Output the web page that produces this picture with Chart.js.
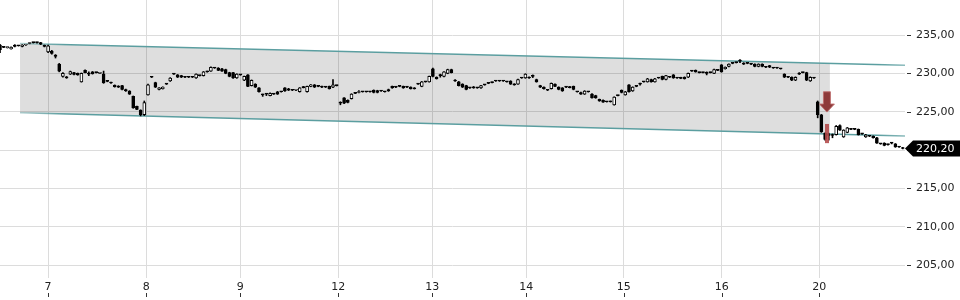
<!DOCTYPE html>
<html><head><meta charset="utf-8">
<script src="https://cdn.jsdelivr.net/npm/chart.js@4/dist/chart.umd.min.js"></script>
<style>html,body{margin:0;padding:0;background:#fff}#wrap{width:960px;height:300px;position:relative}</style>
</head><body><div id="wrap"><canvas id="c"></canvas></div>
<script>
// day labels and their position (candle slot where each day starts)
const dayLabels = ['7','8','9','12','13','14','15','16','20'];
const dayStarts = [13, 39.5, 64.9, 91.4, 116.8, 142.2, 168.6, 195.1, 221.4];
const yTicks = [205, 210, 215, 220, 225, 230, 235];

const opens = [
233.7,233.4,233.35,233.2,233.7,233.6,233.5,233.7,233.9,234.0,
234.0,234.0,233.65,232.8,232.9,232.4,231.2,229.6,229.55,229.9,
230.1,230.0,228.9,230.4,229.95,230.2,230.1,230.0,229.9,229.0,
228.8,228.45,228.35,228.4,227.9,227.7,227.0,225.7,225.2,224.6,
227.2,229.5,228.8,227.9,228.0,228.6,229.0,229.9,229.8,229.7,
229.5,229.5,229.55,229.4,229.7,229.7,230.2,230.3,230.7,230.7,
230.6,230.5,230.1,230.1,229.4,229.8,229.1,229.8,228.4,228.6,
228.1,227.25,227.3,227.1,227.3,227.6,227.6,228.1,228.0,227.8,
227.8,227.6,228.25,227.6,228.3,228.5,228.3,228.3,228.2,228.3,
228.2,228.4,226.1,226.8,226.5,226.7,227.4,227.5,227.6,227.6,
227.6,227.8,227.75,227.7,227.6,227.9,228.3,228.2,228.3,228.3,
228.2,228.2,228.1,228.6,228.3,228.9,228.9,230.6,229.5,229.7,
229.6,230.0,230.5,229.0,228.9,228.6,228.4,228.1,228.25,228.1,
228.1,228.5,228.7,228.8,229.0,229.0,229.0,228.9,229.0,228.6,
228.6,229.4,229.4,229.5,229.6,229.2,228.4,228.2,227.8,228.0,
228.6,228.2,228.1,228.2,228.25,228.3,227.6,227.5,227.3,227.6,
227.3,227.1,226.6,226.5,226.3,226.35,225.9,227.1,227.8,227.2,
228.5,227.7,228.3,228.6,228.9,228.9,229.2,228.9,229.4,229.6,
229.2,229.5,229.8,229.4,229.45,229.5,229.5,230.3,230.4,230.1,
230.1,230.0,230.1,230.0,230.4,231.1,230.6,230.9,231.3,231.4,
231.6,231.35,231.3,231.2,231.2,230.9,231.2,230.8,231.0,230.7,
230.7,230.6,229.9,229.5,229.5,229.1,229.9,230.1,230.1,229.0,
229.4,226.3,224.6,222.2,221.9,221.9,222.0,223.2,221.7,222.3,
222.7,222.7,222.7,222.1,221.7,221.8,221.8,221.6,220.8,220.9,
220.7,220.9,220.8,220.4,220.3];

const closes = [
233.1,233.4,233.4,233.4,233.5,233.6,233.7,233.75,233.95,234.0,
234.0,233.8,233.5,233.6,232.6,232.2,230.3,230.0,229.4,230.25,
229.85,229.8,230.0,230.1,229.9,229.95,230.1,230.05,228.8,228.95,
228.75,228.25,228.2,227.9,227.7,227.3,225.5,225.3,224.6,226.2,
228.5,229.5,228.2,228.1,228.2,228.6,229.4,229.9,229.5,229.5,
229.5,229.5,229.5,229.9,229.7,230.2,230.2,230.8,230.7,230.4,
230.3,230.0,229.6,229.4,229.9,229.8,229.6,228.3,229.1,228.2,
227.6,227.2,227.3,227.4,227.3,227.3,227.6,227.7,227.8,227.8,
227.85,228.1,228.15,228.3,228.5,228.2,228.3,228.2,228.2,228.0,
228.5,228.4,226.1,226.1,226.2,227.3,227.4,227.6,227.6,227.6,
227.6,227.5,227.5,227.7,227.6,227.7,228.1,228.2,228.3,228.1,
228.2,228.0,228.0,228.6,228.9,228.9,229.6,229.6,229.3,229.7,
230.2,230.5,230.1,229.0,228.4,228.2,227.9,228.1,228.1,228.1,
228.4,228.5,228.7,228.8,229.0,229.0,229.0,228.9,228.6,228.5,
229.2,229.4,229.9,229.4,229.6,228.9,228.2,228.0,227.8,228.7,
228.3,227.9,227.7,228.2,228.15,227.9,227.6,227.3,227.7,227.6,
226.8,226.8,226.4,226.25,226.3,226.3,226.9,227.1,227.5,227.6,
227.6,228.2,228.3,228.6,228.9,229.3,228.9,229.3,229.4,229.2,
229.7,229.5,229.4,229.4,229.35,229.3,230.0,230.3,230.2,230.1,
230.1,230.0,230.1,230.5,230.4,230.2,230.8,231.2,231.3,231.4,
231.6,231.2,231.3,231.2,230.9,231.2,230.9,230.8,230.8,230.7,
230.7,230.6,229.5,229.5,229.1,229.5,229.9,230.1,229.1,229.5,
229.4,224.6,222.4,221.4,221.9,221.9,223.1,222.6,222.6,222.9,
222.7,222.7,222.0,222.1,222.0,221.8,221.6,220.9,220.8,220.6,
220.7,220.9,220.4,220.4,220.2];

const highs = [
233.8,233.45,233.45,233.45,233.75,233.65,233.75,233.8,234.0,234.05,
234.05,234.05,233.7,233.7,233.0,232.45,231.3,230.1,229.6,230.3,
230.15,230.05,230.05,230.45,230.2,230.25,230.15,230.1,230.3,229.05,
228.85,228.5,228.4,228.45,227.95,227.75,227.05,225.75,225.25,226.4,
228.6,229.6,228.85,228.15,228.25,228.65,229.45,229.95,229.85,229.75,
229.55,229.55,229.6,229.95,229.75,230.25,230.3,230.85,230.75,230.75,
230.65,230.55,230.15,230.15,229.95,229.85,229.65,229.85,229.15,228.65,
228.15,227.3,227.35,227.45,227.35,227.65,227.65,228.15,228.05,227.85,
227.9,228.15,228.3,228.35,228.55,228.55,228.35,228.35,228.25,228.35,
229.2,228.45,226.3,226.85,226.55,227.35,227.45,227.75,227.65,227.65,
227.65,227.85,227.8,227.75,227.65,227.95,228.35,228.25,228.35,228.35,
228.25,228.25,228.15,228.65,228.95,228.95,229.65,230.7,229.55,229.9,
230.25,230.55,230.55,229.2,228.95,228.65,228.45,228.15,228.3,228.15,
228.45,228.55,228.75,228.85,229.05,229.05,229.05,228.95,229.05,228.65,
229.25,229.45,229.95,229.55,229.8,229.25,228.45,228.25,227.85,228.75,
228.65,228.25,228.15,228.25,228.3,228.35,227.65,227.55,227.75,227.65,
227.35,227.15,226.65,226.55,226.35,226.4,226.95,227.15,227.85,227.65,
228.55,228.25,228.35,228.75,228.95,229.35,229.25,229.35,229.45,229.65,
229.75,229.55,229.85,229.45,229.5,229.55,230.05,230.35,230.45,230.15,
230.15,230.2,230.15,230.55,230.45,231.15,230.85,231.25,231.35,231.45,
231.8,231.4,231.35,231.25,231.25,231.25,231.25,230.85,231.05,230.75,
230.75,230.65,229.95,229.55,229.55,229.55,230.1,230.15,230.15,229.55,
229.45,226.4,224.65,222.25,222.2,222.1,223.2,223.3,222.65,222.95,
222.75,222.75,222.75,222.15,222.05,221.85,221.85,221.65,220.85,220.95,
220.75,221.0,220.85,220.45,220.35];

const lows = [
232.7,233.35,233.3,233.15,233.45,233.55,233.45,233.65,233.85,233.95,
233.95,233.75,233.45,232.7,232.5,232.0,230.2,229.5,229.35,229.85,
229.8,229.75,228.85,230.05,229.7,229.9,230.05,229.95,228.7,228.9,
228.7,228.2,228.15,227.85,227.65,227.25,225.45,225.25,224.45,224.5,
227.15,229.45,228.15,227.85,227.95,228.55,228.95,229.85,229.45,229.45,
229.45,229.45,229.45,229.35,229.65,229.65,230.15,230.25,230.65,230.35,
230.25,229.95,229.55,229.35,229.35,229.75,229.05,228.25,228.35,228.15,
227.55,227.0,227.1,227.05,227.25,227.25,227.55,227.65,227.75,227.75,
227.75,227.55,228.1,227.55,228.25,228.15,228.25,228.15,228.15,227.95,
228.15,228.35,225.9,226.05,226.15,226.65,227.35,227.45,227.55,227.55,
227.55,227.45,227.45,227.65,227.55,227.65,228.05,228.15,228.25,228.05,
228.15,227.95,227.95,228.55,228.25,228.85,228.85,229.55,229.25,229.5,
229.55,229.95,230.05,228.95,228.35,228.15,227.85,228.05,228.05,228.05,
228.05,228.45,228.65,228.75,228.95,228.95,228.95,228.85,228.55,228.45,
228.55,229.35,229.35,229.35,229.45,228.85,228.15,227.95,227.75,227.95,
228.25,227.85,227.65,228.15,228.1,227.85,227.55,227.25,227.25,227.55,
226.75,226.75,226.35,226.2,226.25,226.25,225.85,227.05,227.45,227.15,
227.55,227.65,228.25,228.45,228.85,228.85,228.85,228.85,229.35,229.15,
229.15,229.45,229.35,229.35,229.3,229.25,229.45,230.25,230.15,230.05,
230.05,229.8,230.05,229.95,230.35,230.15,230.55,230.85,231.25,231.35,
231.4,231.15,231.25,231.15,230.85,230.85,230.85,230.75,230.75,230.65,
230.65,230.55,229.45,229.45,229.05,229.05,229.85,230.05,229.05,228.95,
229.35,224.2,222.3,221.3,221.3,221.6,221.95,222.55,221.65,222.25,
222.65,222.65,221.95,222.05,221.65,221.75,221.55,220.85,220.75,220.55,
220.65,220.8,220.35,220.35,220.15];

// trend channel (slot, price)
const channelTop = [{x:5.41, y:233.89}, {x:244.6, y:231.06}];
const channelBottom = [{x:5.41, y:224.87}, {x:244.6, y:221.83}];
const bandTop = [{x:5.41, y:233.89}, {x:224.3, y:231.30}];
const bandBottom = [{x:5.41, y:224.87}, {x:224.3, y:222.09}];

// signal markers (slot, prices)
const arrowSignal = {slot:223.5, top:227.6, neck:226.0, tip:224.95};
const signalBar = {slot:223.4, top:223.4, bottom:220.9};
const lastPrice = 220.20;

const fmt = v => v.toFixed(2).replace('.', ',');

const bodies = opens.map((o,i)=>({x:i, y:[o, closes[i]]}));
const wicks = highs.map((h,i)=>({x:i, y:[lows[i], h]}));

const deco = {
  id:'deco',
  afterDatasetsDraw(chart){
    const {ctx, scales:{x,y}} = chart;
    ctx.save();
    const bx = x.getPixelForValue(signalBar.slot);
    const bt = y.getPixelForValue(signalBar.top), bb = y.getPixelForValue(signalBar.bottom);
    ctx.fillStyle = 'rgba(178,72,72,0.88)';
    ctx.fillRect(Math.round(bx)-2, bt, 4, bb-bt);
    const ax = x.getPixelForValue(arrowSignal.slot);
    const at = y.getPixelForValue(arrowSignal.top), an = y.getPixelForValue(arrowSignal.neck), ap = y.getPixelForValue(arrowSignal.tip);
    ctx.fillStyle = '#8e3a3a';
    ctx.strokeStyle = 'rgba(190,110,110,0.9)';
    ctx.lineWidth = 1;
    ctx.beginPath();
    ctx.moveTo(ax-3.5, at); ctx.lineTo(ax+3.5, at); ctx.lineTo(ax+3.5, an);
    ctx.lineTo(ax+7.5, an); ctx.lineTo(ax, ap); ctx.lineTo(ax-7.5, an);
    ctx.lineTo(ax-3.5, an); ctx.closePath();
    ctx.fill(); ctx.stroke();
    ctx.restore();
  },
  afterDraw(chart){
    const {ctx, scales:{x,y}, chartArea:a} = chart;
    ctx.save();
    ctx.strokeStyle = '#333'; ctx.lineWidth = 1;
    y.ticks.forEach(t=>{
      const py = Math.round(y.getPixelForValue(t.value))+0.5;
      ctx.beginPath(); ctx.moveTo(a.right+2, py); ctx.lineTo(a.right+6, py); ctx.stroke();
    });
    x.ticks.forEach(t=>{
      const px = Math.round(x.getPixelForValue(t.value))+0.5;
      ctx.beginPath(); ctx.moveTo(px, x.bottom-7); ctx.lineTo(px, x.bottom-3); ctx.stroke();
    });
    const py = y.getPixelForValue(lastPrice);
    ctx.fillStyle = '#000';
    ctx.beginPath();
    ctx.moveTo(a.right, py); ctx.lineTo(a.right+8, py-8); ctx.lineTo(chart.width, py-8);
    ctx.lineTo(chart.width, py+8); ctx.lineTo(a.right+8, py+8); ctx.closePath(); ctx.fill();
    ctx.fillStyle = '#fff';
    ctx.font = '11px "DejaVu Sans"';
    ctx.textBaseline = 'middle'; ctx.textAlign = 'left';
    ctx.fillText(fmt(lastPrice), a.right+11, py+0.5);
    ctx.restore();
  }
};

Chart.defaults.font.family = '"DejaVu Sans", sans-serif';
Chart.defaults.font.size = 11;
Chart.defaults.color = '#222';

function tealGradient(context){
  const {ctx, chartArea} = context.chart;
  if (!chartArea) return '#5b9ea0';
  const g = ctx.createLinearGradient(20, 0, chartArea.right, 0);
  g.addColorStop(0, 'rgba(91,158,160,0.45)');
  g.addColorStop(0.05, 'rgba(91,158,160,1)');
  g.addColorStop(0.97, 'rgba(91,158,160,1)');
  g.addColorStop(1, 'rgba(91,158,160,0.7)');
  return g;
}

new Chart(document.getElementById('c'), {
  type:'bar',
  data:{
    datasets:[
      {type:'line', data:bandTop, borderWidth:0, pointRadius:0, fill:'+1', backgroundColor:'rgba(0,0,0,0.13)', order:6},
      {type:'line', data:bandBottom, borderWidth:0, pointRadius:0, fill:false, order:5},
      {type:'line', data:channelTop, borderWidth:1.5, pointRadius:0, fill:false, borderColor:tealGradient, order:4},
      {type:'line', data:channelBottom, borderWidth:1.5, pointRadius:0, fill:false, borderColor:tealGradient, order:3},
      {type:'bar', data:wicks, barThickness:1, backgroundColor:'#000', borderWidth:0, grouped:false, order:2},
      {type:'bar', data:bodies, barThickness:3, minBarLength:1, grouped:false, borderSkipped:false,
        borderWidth:1, borderColor:'#000',
        backgroundColor: c => { const i = c.dataIndex; return closes[i] > opens[i] ? '#fff' : '#000'; },
        order:1}
    ]
  },
  options:{
    responsive:true, maintainAspectRatio:false, animation:false,
    layout:{padding:0},
    plugins:{legend:{display:false}, tooltip:{enabled:false}},
    scales:{
      x:{type:'linear', min:0, max:244.6, offset:false,
        grid:{color:'#dcdcdc', drawTicks:false, offset:false}, border:{display:false},
        afterBuildTicks: s => { s.ticks = dayStarts.map(v=>({value:v})); },
        ticks:{autoSkip:false, maxRotation:0, padding:3, callback:(v,i)=>dayLabels[i]},
        afterFit: s => { s.height = 22; s.paddingLeft = 0; s.paddingRight = 0; }
      },
      y:{position:'right', min:203.31, max:239.57,
        grid:{color:'#dcdcdc', drawTicks:false}, border:{display:false},
        afterBuildTicks: s => { s.ticks = yTicks.map(v=>({value:v})); },
        ticks:{padding:11, callback: v => fmt(v)},
        afterFit: s => { s.width = 55; s.paddingTop = 0; s.paddingBottom = 0; }
      }
    }
  },
  plugins:[deco]
});
</script>
</body></html>
